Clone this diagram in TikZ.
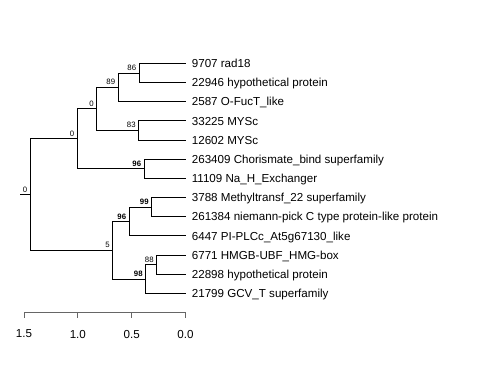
\documentclass[tikz,border=0pt]{standalone}
\usepackage{fontspec}
\setmainfont{Liberation Sans}

\begin{document}
\begin{tikzpicture}[x=1pt,y=-1pt,line width=0.7pt,
    leaf/.style={anchor=base west,inner sep=0pt,xshift=6pt,yshift=-4.2pt,
      font=\fontsize{11.6}{13}\selectfont},
    boot/.style={anchor=south east,inner xsep=2.5pt,inner ysep=2pt,
      font=\fontsize{7.8}{9}\selectfont},
    bootb/.style={boot,font=\fontsize{7.8}{9}\selectfont\bfseries},
    scalelab/.style={inner sep=0pt,font=\fontsize{11.6}{13}\selectfont},
    axisline/.style={draw=black!60,line width=0.8pt}]
    \useasboundingbox (0,0) rectangle (480,384);

    \coordinate (t1) at (185.5,63.3);
    \coordinate (t2) at (185.5,82.5);
    \coordinate (t3) at (185.5,101.6);
    \coordinate (t4) at (185.5,120.8);
    \coordinate (t5) at (185.5,140);
    \coordinate (t6) at (185.5,159.2);
    \coordinate (t7) at (185.5,178.3);
    \coordinate (t8) at (185.5,197.5);
    \coordinate (t9) at (185.5,216.7);
    \coordinate (t10) at (185.5,235.8);
    \coordinate (t11) at (185.5,255);
    \coordinate (t12) at (185.5,274.2);
    \coordinate (t13) at (185.5,293.3);

    \node[leaf] (l1) at (t1) {9707 rad18};
    \node[leaf] (l2) at (t2) {22946 hypothetical protein};
    \node[leaf] (l3) at (t3) {2587 O-FucT\_like};
    \node[leaf] (l4) at (t4) {33225 MYSc};
    \node[leaf] (l5) at (t5) {12602 MYSc};
    \node[leaf] (l6) at (t6) {263409 Chorismate\_bind superfamily};
    \node[leaf] (l7) at (t7) {11109 Na\_H\_Exchanger};
    \node[leaf] (l8) at (t8) {3788 Methyltransf\_22 superfamily};
    \node[leaf] (l9) at (t9) {261384 niemann-pick C type protein-like protein};
    \node[leaf] (l10) at (t10) {6447 PI-PLCc\_At5g67130\_like};
    \node[leaf] (l11) at (t11) {6771 HMGB-UBF\_HMG-box};
    \node[leaf] (l12) at (t12) {22898 hypothetical protein};
    \node[leaf] (l13) at (t13) {21799 GCV\_T superfamily};

    \coordinate (n86) at (139,72.9);
    \coordinate (n89) at (118,87.25);
    \coordinate (n83) at (138.5,130.4);
    \coordinate (n0a) at (96.5,108.8);
    \coordinate (n96a) at (144,168.75);
    \coordinate (n0b) at (77,138.8);
    \coordinate (n99) at (151.5,207.1);
    \coordinate (n96b) at (129,221.45);
    \coordinate (n88) at (156.5,264.6);
    \coordinate (n98) at (145.5,278.95);
    \coordinate (n5) at (112.5,250.2);
    \coordinate (root) at (30,194.5);
    \coordinate (stub) at (20,194.5);

    \draw (n86) |- (t1);
    \draw (n86) |- (t2);
    \draw (n89) |- (n86);
    \draw (n89) |- (t3);
    \draw (n83) |- (t4);
    \draw (n83) |- (t5);
    \draw (n0a) |- (n89);
    \draw (n0a) |- (n83);
    \draw (n96a) |- (t6);
    \draw (n96a) |- (t7);
    \draw (n0b) |- (n0a);
    \draw (n0b) |- (n96a);
    \draw (n99) |- (t8);
    \draw (n99) |- (t9);
    \draw (n96b) |- (n99);
    \draw (n96b) |- (t10);
    \draw (n88) |- (t11);
    \draw (n88) |- (t12);
    \draw (n98) |- (n88);
    \draw (n98) |- (t13);
    \draw (n5) |- (n96b);
    \draw (n5) |- (n98);
    \draw (root) |- (n0b);
    \draw (root) |- (n5);
    \draw (stub) -- (root);

    \node[boot] (b86) at (n86) {86};
    \node[boot] (b89) at (n89) {89};
    \node[boot] (b83) at (n83) {83};
    \node[boot] (b0a) at (n0a) {0};
    \node[bootb] (b96a) at (n96a) {96};
    \node[boot] (b0b) at (n0b) {0};
    \node[bootb] (b99) at (n99) {99};
    \node[bootb] (b96b) at (n96b) {96};
    \node[boot] (b88) at (n88) {88};
    \node[bootb] (b98) at (n98) {98};
    \node[boot] (b5) at (n5) {5};
    \node[boot] (broot) at (root) {0};

    \coordinate (s15) at (24,312.7);
    \coordinate (s10) at (77.83,312.7);
    \coordinate (s05) at (131.67,312.7);
    \coordinate (s00) at (185.5,312.7);
    \draw[axisline] (s15) -- (s00);
    \draw[axisline] (s15) -- ++(0,5.5);
    \draw[axisline] (s10) -- ++(0,5.5);
    \draw[axisline] (s05) -- ++(0,5.5);
    \draw[axisline] (s00) -- ++(0,5.5);
    \node[scalelab] (v15) at (24,334) {1.5};
    \node[scalelab] (v10) at (77.83,334) {1.0};
    \node[scalelab] (v05) at (131.67,334) {0.5};
    \node[scalelab] (v00) at (185.5,334) {0.0};
\end{tikzpicture}
\end{document}
